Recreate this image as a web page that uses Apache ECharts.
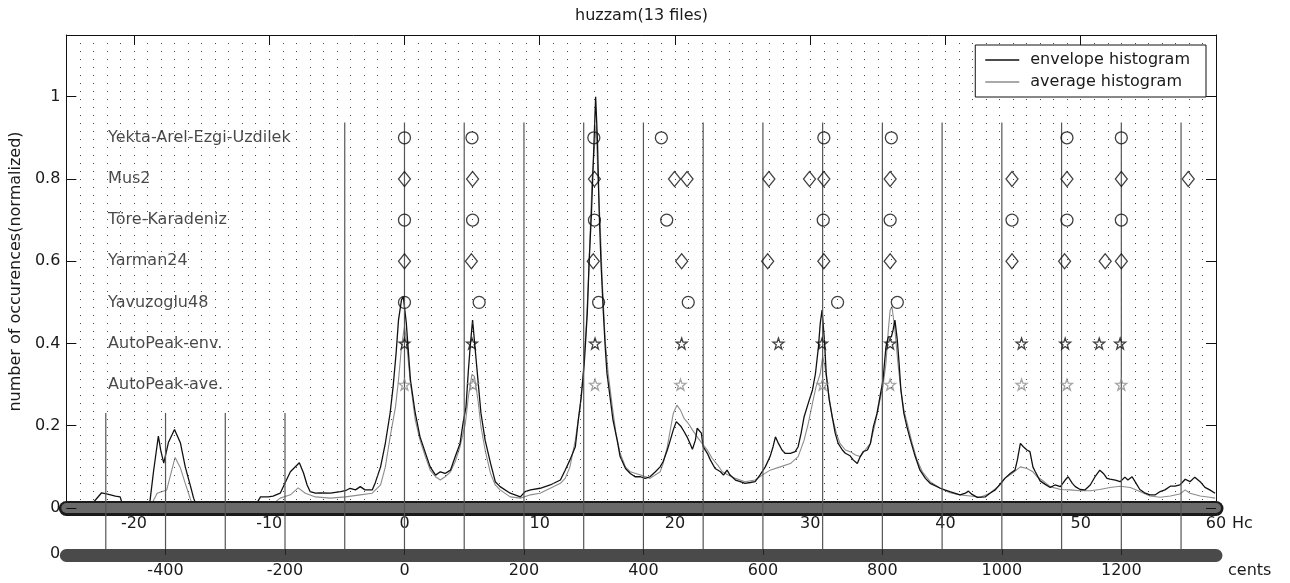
<!DOCTYPE html>
<html><head><meta charset="utf-8">
<script src="https://cdn.jsdelivr.net/npm/echarts@6/dist/echarts.min.js"></script>
<style>html,body{margin:0;padding:0;background:#fff}#c{width:1290px;height:583px}</style>
</head><body><div id="c"></div>
<script>
// ---------- data ----------
const titleText = 'huzzam(13 files)';
const yTicks = [0, 0.2, 0.4, 0.6, 0.8, 1];
const hcTicks = [-20, -10, 0, 10, 20, 30, 40, 50, 60];
const centTicks = [-400, -200, 0, 200, 400, 600, 800, 1000, 1200];
const refLineCents = [-500,-400,-300,-200,-100,0,100,200,300,400,500,600,700,800,900,1000,1100,1200,1300];
const refLineTop = [0.231,0.231,0.231,0.231,0.937,0.937,0.937,0.937,0.937,0.937,0.937,0.937,0.937,0.937,0.937,0.937,0.937,0.937,0.937];

const envX = [-565,-526,-517,-507,-497,-484,-476,-471,-427,-420,-412,-408,-403,-395,-385,-375,-367,-358,-353,-348,-250,-241,-228,-220,-208,-199,-191,-176,-169,-163,-158,-149,-141,-124,-107,-99,-91,-82,-74,-66,-54,-49,-40,-32,-24,-19,-14,-10,-5,-2,3,10,18,26,35,43,52,60,68,77,85,93,98,103,107,110,114,118,123,128,135,144,152,160,177,194,202,211,227,244,261,269,277,286,291,296,301,306,309,313,316,318,320,323,326,329,333,336,339,344,349,356,361,370,378,386,395,403,411,420,428,433,440,445,450,455,458,463,468,473,478,482,487,490,493,497,500,507,512,520,529,534,540,545,554,562,570,579,587,595,604,612,617,621,626,632,637,646,654,659,664,669,676,683,688,693,696,699,703,706,711,716,721,726,733,738,746,751,758,763,768,775,780,785,791,796,801,806,810,815,818,821,825,828,831,836,841,847,855,863,872,880,897,913,930,939,944,950,959,972,980,989,997,1005,1014,1022,1026,1031,1036,1042,1047,1052,1056,1064,1072,1081,1089,1098,1106,1111,1118,1123,1131,1139,1148,1156,1164,1170,1176,1181,1190,1198,1206,1211,1218,1223,1231,1240,1248,1257,1265,1273,1282,1290,1298,1307,1315,1323,1332,1340,1348,1357];
const envY = [0,0.005,0.02,0.037,0.034,0.029,0.027,0.005,0.005,0.09,0.175,0.14,0.109,0.16,0.191,0.158,0.10,0.052,0.024,0.005,0.005,0.027,0.027,0.029,0.036,0.064,0.088,0.11,0.085,0.056,0.04,0.036,0.037,0.036,0.04,0.042,0.048,0.044,0.052,0.044,0.044,0.061,0.10,0.158,0.231,0.295,0.377,0.457,0.506,0.514,0.45,0.311,0.231,0.173,0.134,0.10,0.08,0.088,0.084,0.092,0.125,0.157,0.206,0.246,0.335,0.392,0.457,0.392,0.311,0.231,0.165,0.109,0.064,0.052,0.036,0.027,0.04,0.044,0.048,0.056,0.068,0.092,0.117,0.149,0.214,0.271,0.352,0.473,0.595,0.717,0.838,0.919,1.0,0.895,0.717,0.595,0.473,0.392,0.327,0.271,0.214,0.165,0.125,0.096,0.084,0.076,0.076,0.072,0.076,0.088,0.10,0.113,0.141,0.165,0.19,0.21,0.214,0.198,0.186,0.173,0.157,0.143,0.165,0.194,0.198,0.182,0.149,0.133,0.117,0.096,0.088,0.08,0.092,0.08,0.068,0.064,0.06,0.062,0.064,0.08,0.10,0.125,0.149,0.173,0.157,0.141,0.133,0.133,0.137,0.149,0.182,0.222,0.255,0.287,0.327,0.392,0.449,0.481,0.408,0.327,0.263,0.222,0.182,0.157,0.141,0.133,0.127,0.117,0.108,0.125,0.137,0.141,0.157,0.198,0.23,0.271,0.311,0.392,0.416,0.416,0.433,0.457,0.408,0.352,0.287,0.23,0.198,0.165,0.125,0.092,0.072,0.06,0.048,0.04,0.032,0.036,0.041,0.033,0.026,0.027,0.036,0.044,0.058,0.072,0.084,0.092,0.117,0.157,0.149,0.141,0.137,0.10,0.088,0.066,0.058,0.05,0.056,0.052,0.068,0.076,0.06,0.052,0.045,0.044,0.056,0.076,0.092,0.084,0.072,0.07,0.068,0.064,0.075,0.068,0.076,0.064,0.045,0.036,0.032,0.032,0.04,0.044,0.053,0.053,0.056,0.07,0.064,0.075,0.064,0.05,0.044,0.036];

const aveX = [-565,-425,-414,-398,-384,-375,-367,-358,-353,-225,-208,-191,-178,-166,-149,-124,-99,-74,-54,-40,-32,-24,-15,-10,-5,0,3,10,18,26,35,43,52,60,68,77,85,93,102,107,113,117,123,128,135,144,152,160,177,194,211,227,244,261,269,277,286,294,299,304,308,311,314,318,321,324,328,331,336,341,348,354,361,370,378,395,411,428,433,440,445,450,456,462,468,475,482,490,498,507,515,524,532,542,554,570,587,599,612,629,646,659,669,676,683,689,696,700,704,709,716,723,729,738,746,755,763,771,780,788,796,801,806,810,813,816,821,826,831,836,843,850,858,867,880,897,913,930,947,964,980,997,1005,1017,1031,1042,1052,1059,1067,1081,1098,1114,1131,1148,1164,1181,1198,1215,1231,1248,1265,1282,1298,1307,1315,1332,1348,1357];
const aveY = [0,0.005,0.036,0.044,0.123,0.097,0.06,0.02,0.005,0.005,0.024,0.032,0.049,0.036,0.027,0.024,0.027,0.032,0.036,0.056,0.10,0.173,0.246,0.311,0.392,0.441,0.408,0.304,0.214,0.165,0.125,0.092,0.076,0.068,0.076,0.088,0.113,0.149,0.206,0.271,0.325,0.32,0.263,0.198,0.141,0.084,0.056,0.044,0.027,0.024,0.032,0.036,0.048,0.06,0.072,0.10,0.165,0.246,0.327,0.433,0.554,0.676,0.797,0.878,0.93,0.797,0.676,0.554,0.408,0.327,0.246,0.182,0.133,0.10,0.088,0.08,0.072,0.088,0.108,0.149,0.19,0.23,0.25,0.238,0.218,0.206,0.19,0.173,0.157,0.141,0.121,0.105,0.088,0.08,0.072,0.064,0.068,0.08,0.092,0.10,0.108,0.125,0.165,0.206,0.255,0.295,0.327,0.368,0.343,0.287,0.222,0.182,0.157,0.141,0.137,0.129,0.125,0.141,0.157,0.206,0.263,0.295,0.352,0.433,0.481,0.49,0.433,0.352,0.287,0.238,0.198,0.157,0.117,0.088,0.064,0.048,0.037,0.032,0.029,0.026,0.036,0.056,0.072,0.084,0.10,0.096,0.088,0.076,0.068,0.052,0.045,0.044,0.042,0.042,0.045,0.05,0.053,0.05,0.04,0.029,0.026,0.029,0.034,0.044,0.036,0.029,0.026,0.024];

const rowNames = ['Yekta-Arel-Ezgi-Uzdilek','Mus2','Töre-Karadeniz','Yarman24','Yavuzoglu48','AutoPeak-env.','AutoPeak-ave.'];
const rowLevels = [0.9, 0.8, 0.7, 0.6, 0.5, 0.4, 0.3];
const yektaCents = [0,113,317,430,702,815,1109,1200];
const mus2Cents = [0,114,318,452,473,610,678,702,813,1017,1109,1200,1312];
const toreCents = [0,114,318,439,701,813,1017,1109,1200];
const yarmanCents = [0,112,316,464,608,702,813,1017,1105,1173,1200];
const yavuzCents = [0,125,325,475,725,825];
const autoEnvCents = [0,113,319,464,626,699,813,1033,1106,1163,1198];
const autoAveCents = [0,115,319,462,700,813,1033,1109,1200];

// ---------- chart ----------
const FONT = 'DejaVu Sans';
const TXT = '#1a1a1a';
const HC_MIN = -25, HC_MAX = 60;
const C_PER_HC = 1200 / 53;
const CENT_MIN = HC_MIN * C_PER_HC, CENT_MAX = HC_MAX * C_PER_HC;
const LABEL_X = -497;
const STAR = 'path://M0,-10 L2.35,-3.24 L9.51,-3.09 L3.8,1.24 L5.88,8.09 L0,4 L-5.88,8.09 L-3.8,1.24 L-9.51,-3.09 L-2.35,-3.24 Z';
const plain = v => String(Math.round(v * 1000) / 1000);

const pairs = (xs, ys) => xs.map((x, i) => [x, ys[i]]);
const rowData = (cents, lvl) => cents.map(c => [c, lvl]);

function markerSeries(name, cents, lvl, symbol, size, color) {
  return {
    name, type: 'scatter', xAxisIndex: 0, yAxisIndex: 0, z: 6, silent: true,
    symbol, symbolSize: size,
    itemStyle: { color: 'rgba(0,0,0,0)', borderColor: color, borderWidth: 1.3 },
    data: rowData(cents, lvl)
  };
}

const chart = echarts.init(document.getElementById('c'), null, { renderer: 'canvas' });
chart.setOption({
  animation: false,
  backgroundColor: '#fff',
  textStyle: { fontFamily: FONT },
  title: { text: titleText, left: 570, top: 3, textStyle: { fontFamily: FONT, fontSize: 16, fontWeight: 'normal', color: TXT } },
  legend: {
    data: ['envelope histogram', 'average histogram'],
    orient: 'vertical', right: 84, top: 45,
    icon: 'rect',
    padding: [5, 16, 5, 10], itemWidth: 34, itemHeight: 1.5, itemGap: 2,
    borderColor: '#111', borderWidth: 1, backgroundColor: '#fff',
    textStyle: { fontFamily: FONT, fontSize: 16, color: TXT, lineHeight: 20, padding: [0, 0, 0, 6] },
    selectedMode: false
  },
  grid: { left: 66, right: 74, top: 35, bottom: 75, containLabel: false },
  xAxis: [
    { // cents axis (data axis)
      type: 'value', min: CENT_MIN, max: CENT_MAX, position: 'bottom', offset: 47, z: 3,
      axisLine: { show: true, onZero: false, lineStyle: { color: '#4a4a4a', width: 13, cap: 'round' } },
      axisTick: { show: true, inside: true, length: 6, customValues: centTicks, lineStyle: { color: '#222' } },
      axisLabel: { customValues: centTicks, margin: 8, fontSize: 16, color: TXT, fontFamily: FONT, formatter: plain },
      splitLine: { show: false },
      name: 'cents', nameLocation: 'end', nameGap: 12,
      nameTextStyle: { fontFamily: FONT, fontSize: 16, color: TXT, verticalAlign: 'top', padding: [8, 0, 0, 0] }
    },
    { // Hc axis outer bar, labels, dotted grid
      type: 'value', min: HC_MIN, max: HC_MAX, interval: 1, position: 'bottom', offset: 0, z: 3,
      axisLine: { show: true, onZero: false, lineStyle: { color: '#1a1a1a', width: 15, cap: 'round' } },
      axisTick: { show: false },
      axisLabel: { customValues: hcTicks, margin: 8, fontSize: 16, color: TXT, fontFamily: FONT, formatter: plain },
      splitLine: { show: true, lineStyle: { type: [1, 7], color: '#444', width: 1 } },
      name: 'Hc', nameLocation: 'end', nameGap: 10,
      nameTextStyle: { fontFamily: FONT, fontSize: 16, color: TXT, verticalAlign: 'top', padding: [8, 0, 0, 0] }
    },
    { // Hc bar inner
      type: 'value', min: HC_MIN, max: HC_MAX, position: 'bottom', offset: 0, z: 3,
      axisLine: { show: true, onZero: false, lineStyle: { color: '#6a6a6a', width: 10, cap: 'round' } },
      axisTick: { show: false }, axisLabel: { show: false }, splitLine: { show: false }
    },
    { // top border
      type: 'value', min: HC_MIN, max: HC_MAX, position: 'top', z: 3,
      axisLine: { show: true, onZero: false, lineStyle: { color: '#111', width: 1 } },
      axisTick: { show: true, inside: true, length: 10, customValues: hcTicks, lineStyle: { color: '#111' } },
      axisLabel: { show: false }, splitLine: { show: false }
    }
  ],
  yAxis: [
    {
      type: 'value', min: 0, max: 1.15, position: 'left', z: 3,
      axisLine: { show: true, onZero: false, lineStyle: { color: '#111', width: 1 } },
      axisTick: { show: true, inside: true, length: 10, customValues: yTicks, lineStyle: { color: '#111' } },
      axisLabel: { customValues: yTicks, margin: 6, fontSize: 16, color: TXT, fontFamily: FONT, formatter: plain },
      splitLine: { show: false },
      name: 'number of occurences(normalized)', nameLocation: 'middle', nameGap: 37,
      nameTextStyle: { fontFamily: FONT, fontSize: 16, color: TXT }
    },
    {
      type: 'value', min: 0, max: 1.15, position: 'right', z: 3,
      axisLine: { show: true, onZero: false, lineStyle: { color: '#111', width: 1 } },
      axisTick: { show: true, inside: true, length: 10, customValues: yTicks, lineStyle: { color: '#111' } },
      axisLabel: { show: false }, splitLine: { show: false }
    }
  ],
  graphic: [
    { type: 'text', left: 50, top: 546, style: { text: '0', font: '16px "DejaVu Sans"', fill: TXT } }
  ],
  series: [
    {
      name: 'average histogram', type: 'line', xAxisIndex: 0, yAxisIndex: 0, z: 1,
      symbol: 'none', showSymbol: false, silent: true,
      lineStyle: { color: '#8c8c8c', width: 1.1 }, itemStyle: { color: '#8c8c8c' },
      data: pairs(aveX, aveY)
    },
    {
      name: 'envelope histogram', type: 'line', xAxisIndex: 0, yAxisIndex: 0, z: 2,
      symbol: 'none', showSymbol: false, silent: true,
      lineStyle: { color: '#111', width: 1.3 }, itemStyle: { color: '#111' },
      data: pairs(envX, envY)
    },
    {
      name: 'refLines', type: 'custom', xAxisIndex: 0, yAxisIndex: 0, z: 4, clip: false, silent: true,
      data: pairs(refLineCents, refLineTop),
      renderItem: function (params, api) {
        const a = api.coord([api.value(0), api.value(1)]);
        const b = api.coord([api.value(0), -0.1]);
        return { type: 'line', shape: { x1: a[0], y1: a[1], x2: b[0], y2: b[1] },
                 style: { stroke: '#555', lineWidth: 1.2 } };
      }
    },
    markerSeries(rowNames[0], yektaCents, rowLevels[0], 'circle', 12, '#111'),
    markerSeries(rowNames[1], mus2Cents, rowLevels[1], 'diamond', [12, 15], '#111'),
    markerSeries(rowNames[2], toreCents, rowLevels[2], 'circle', 12, '#111'),
    markerSeries(rowNames[3], yarmanCents, rowLevels[3], 'diamond', [12, 15], '#111'),
    markerSeries(rowNames[4], yavuzCents, rowLevels[4], 'circle', 12, '#111'),
    markerSeries(rowNames[5], autoEnvCents, rowLevels[5], STAR, 11, '#111'),
    markerSeries(rowNames[6], autoAveCents, rowLevels[6], STAR, 11, '#8c8c8c'),
    {
      name: 'rowLabels', type: 'scatter', xAxisIndex: 0, yAxisIndex: 0, z: 6, silent: true,
      symbolSize: 1, itemStyle: { color: 'rgba(0,0,0,0)' },
      label: { show: true, position: 'right', distance: 0, formatter: '{b}', fontFamily: FONT, fontSize: 16, color: TXT },
      data: rowLevels.map((y, i) => ({ value: [LABEL_X, y], name: rowNames[i] }))
    }
  ]
});
</script>
</body></html>
